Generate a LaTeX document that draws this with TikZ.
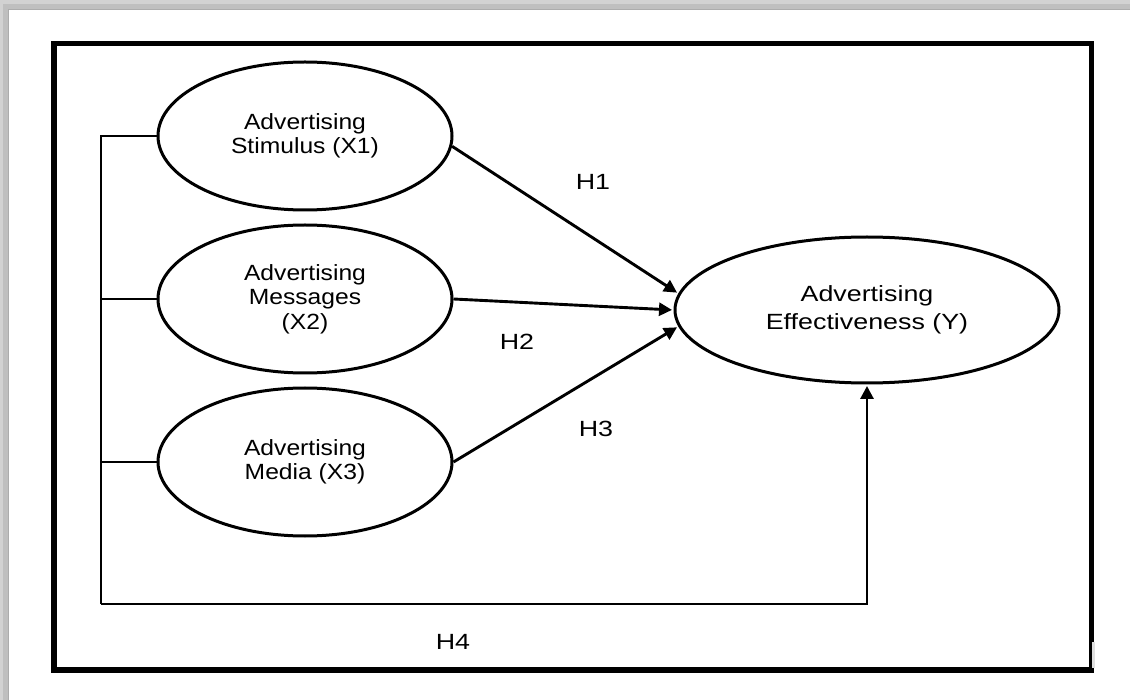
\documentclass[tikz,border=0pt]{standalone}
\usepackage{fontspec}
\setmainfont{Liberation Sans}
\newfontfamily\fx{Liberation Sans}[FakeStretch=1.12]
\newfontfamily\fy{Liberation Sans}[FakeStretch=1.22]
\usetikzlibrary{arrows.meta,shapes.geometric}
\begin{document}
\begin{tikzpicture}[x=1pt,y=-1pt,
  latent/.style={ellipse, draw, line width=3pt, inner sep=0pt, align=center,
    minimum width=294pt, minimum height=148pt, font=\fx\fontsize{22}{24.5}\selectfont},
  conn/.style={line width=2.9pt},
  arr/.style={conn, -{Triangle[length=13pt,width=13pt]}, shorten >=1.5pt},
  hlab/.style={font=\fy\fontsize{22}{26}\selectfont, inner sep=0pt}]
\useasboundingbox (0,0) rectangle (1130,700);
% page shadow
\fill[gray!35] (0,0) rectangle (1130,700);
\fill[gray!50] (3,4) rectangle (1130,700);
\fill[white] (8,10) rectangle (1130,700);
\draw[gray!65, line width=1pt] (8,700) -- (8,10) -- (1130,10);
% frame
\draw[line width=5.5pt] (54,43.5) rectangle (1091.5,670);
\fill[gray!25] (1091.8,642) rectangle (1095,668);
% constructs
\node[latent] (x1) at (305,136) {Advertising\\Stimulus (X1)};
\node[latent] (x2) at (305,299) {Advertising\\Messages\\(X2)};
\node[latent] (x3) at (305,462) {Advertising\\Media (X3)};
\node[latent, minimum width=384pt, minimum height=146pt,
  font=\fy\fontsize{22}{28}\selectfont] (y) at (867,310) {Advertising\\Effectiveness (Y)};
% hypothesis labels
\node[hlab] (h1) at (593,182) {H1};
\node[hlab] (h2) at (517,342) {H2};
\node[hlab] (h3) at (596,429) {H3};
\node[hlab] (h4) at (453,642) {H4};
% connectors
\coordinate (tl) at (101,136);
\coordinate (bl) at (101,604);
\draw[conn] (x1.west) -- (tl) -- (bl);
\draw[conn] (x2.west) -- (x2.west -| tl);
\draw[conn] (x3.west) -- (x3.west -| tl);
\draw[arr] (bl) -| (y.south);
\draw[arr] (x1.-4) -- (y.175);
\draw[arr] (x2.east) -- (y.180);
\draw[arr] (x3.east) -- (y.185);
\end{tikzpicture}
\end{document}
